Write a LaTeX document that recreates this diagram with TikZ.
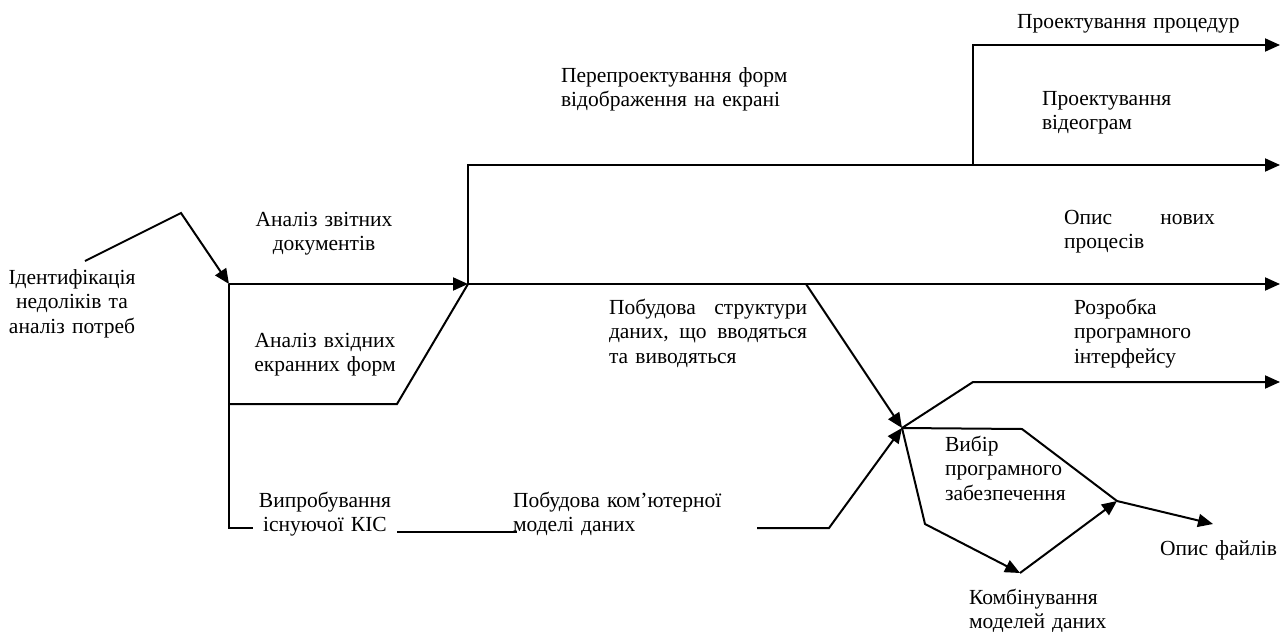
\documentclass[tikz,border=0pt]{standalone}
\usepackage{fontspec}
\setmainfont{Liberation Serif}
\usetikzlibrary{arrows.meta}
\begin{document}
\begin{tikzpicture}[x=1pt,y=-1pt,
  ln/.style={line width=2pt, line join=miter},
  arr/.style={ln, -{Triangle[length=15pt,width=13pt]}},
  lbl/.style={inner sep=0pt, outer sep=0pt, font=\fontsize{21.5}{24.5}\selectfont},
  lblL/.style={lbl, anchor=base west, align=left, text width=260pt},
  lblC/.style={lbl, anchor=base, align=center, text width=170pt}]
\useasboundingbox (0,0) rectangle (1286,632);
% coordinates
\coordinate (a0) at (85,261);
\coordinate (a1) at (181,213);
\coordinate (A) at (229,284);
\coordinate (B) at (468,284);
\coordinate (A2) at (229,404);
\coordinate (A3) at (397,404);
\coordinate (A4) at (229,528);
\coordinate (A5) at (253,528);
\coordinate (C0) at (397,532);
\coordinate (C1) at (517,532);
\coordinate (D0) at (757,528);
\coordinate (D1) at (829,528);
\coordinate (J) at (902,428);
\coordinate (E) at (806,284);
\coordinate (B1) at (468,165);
\coordinate (F) at (973,165);
\coordinate (F1) at (973,45);
\coordinate (R1) at (1280,45);
\coordinate (R2) at (1280,165);
\coordinate (R3) at (1280,284);
\coordinate (R4) at (1280,382);
\coordinate (U) at (973,382);
\coordinate (K) at (1022,429);
\coordinate (L) at (1117,501);
\coordinate (M) at (925,524);
\coordinate (N) at (1020,573);
\coordinate (O) at (1213,524);
% connectors
\draw[arr] (a0) -- (a1) -- (A);
\draw[arr] (A) -- (B);
\draw[ln] (A) -- (A4) -- (A5);
\draw[ln] (A2) -- (A3) -- (B);
\draw[ln] (C0) -- (C1);
\draw[arr] (D0) -- (D1) -- (J);
\draw[arr] (B) -- (R3);
\draw[arr] (B) -- (B1) -- (R2);
\draw[arr] (F) -- (F1) -- (R1);
\draw[arr] (E) -- (J);
\draw[arr] (J) -- (U) -- (R4);
\draw[ln] (J) -- (K) -- (L);
\draw[arr] (J) -- (M) -- (N);
\draw[arr] (N) -- (L);
\draw[arr] (L) -- (O);
% labels
\node[lblC] (t1) at (72,284) {Ідентифікація\\недоліків та\\аналіз потреб};
\node[lblC] (t2) at (324,226) {Аналіз звітних\\документів};
\node[lblC] (t3) at (325,347) {Аналіз вхідних\\екранних форм};
\node[lblC] (t4) at (325,507) {Випробування\\існуючої КІС};
\node[lblL] (t5) at (513,507) {Побудова ком’ютерної\\моделі даних};
\node[lblL, text width=198pt] (t6) at (609,314) {Побудова\hfill структури\\даних,\hfill що\hfill вводяться\\та виводяться};
\node[lblL] (t7) at (561,82) {Перепроектування форм\\відображення на екрані};
\node[lblL] (t8) at (1017,28) {Проектування процедур};
\node[lblL] (t9) at (1042,105) {Проектування\\відеограм};
\node[lblL, text width=151pt] (t10) at (1064,224) {Опис\hfill нових\\процесів};
\node[lblL] (t11) at (1074,314) {Розробка\\програмного\\інтерфейсу};
\node[lblL] (t12) at (945,451) {Вибір\\програмного\\забезпечення};
\node[lblL] (t13) at (969,604) {Комбінування\\моделей даних};
\node[lblL] (t14) at (1160,555) {Опис файлів};
\end{tikzpicture}
\end{document}
